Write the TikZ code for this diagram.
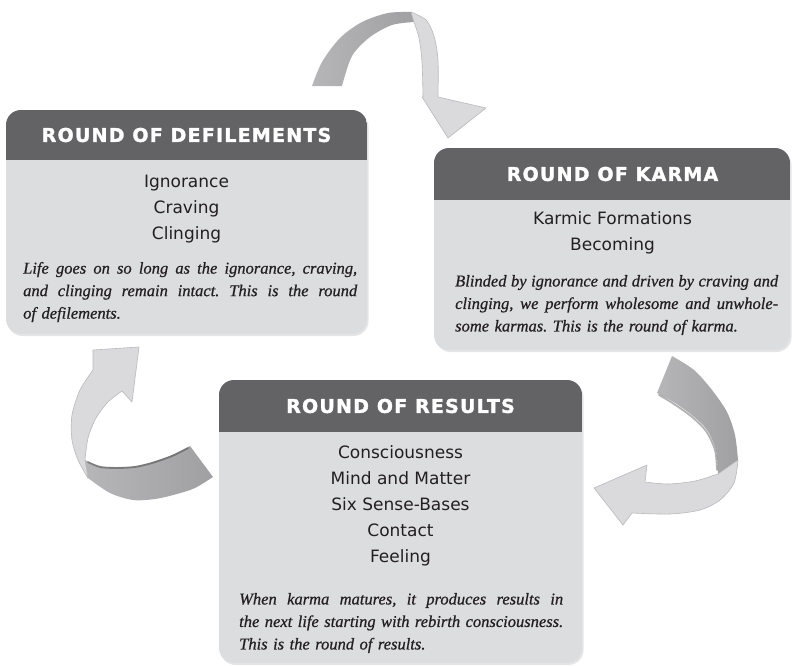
\documentclass[tikz,border=0pt]{standalone}
\usepackage{fontspec}
\newfontfamily\itemfont{DejaVu Sans}
\newfontfamily\headfont[LetterSpace=6.5, BoldFeatures={FakeBold=1.6}]{DejaVu Sans}
\newfontfamily\parafont[ItalicFeatures={FakeBold=0.7}]{Liberation Serif}
\definecolor{headgray}{HTML}{636365}
\definecolor{bodygray}{HTML}{DCDDDF}
\definecolor{inkgray}{HTML}{231F20}
\definecolor{darkA}{HTML}{B6B6B8}
\definecolor{darkB}{HTML}{A0A0A2}
\definecolor{lightarrow}{HTML}{DADADC}
\definecolor{lightedge}{HTML}{B9B9BB}
\newcommand{\jline}[2]{\leavevmode\hbox to #1{\frenchspacing\spaceskip=\fontdimen2\font plus 1fil\relax #2}}
\tikzset{
  boxbody/.style={fill=bodygray, rounded corners=15pt},
  boxshade/.style={fill=black, opacity=0.10, rounded corners=15pt},
  headtext/.style={text=white, font=\headfont\bfseries\fontsize{19}{19}\selectfont, inner sep=0pt},
  itemtext/.style={text=inkgray, font=\itemfont\fontsize{17}{26}\selectfont, align=center, inner sep=0pt, anchor=north},
  paratext/.style={text=inkgray, font=\parafont\itshape\frenchspacing\fontsize{16.5}{22.5}\selectfont, align=left, inner sep=0pt, anchor=north west},
  darkband/.style={left color=darkA, right color=darkB},
  lightband/.style={fill=lightarrow, draw=lightedge, line width=0.6pt, line join=round},
  foldshade/.style={draw=black, opacity=0.30, line width=1.8pt, line cap=round}
}
\begin{document}
\begin{tikzpicture}[x=1pt,y=-1pt]
\useasboundingbox (0,0) rectangle (792,665);

% ---------- arrows ----------
% top arrow (defilements -> karma)
\path[darkband] plot[smooth] coordinates {(312,86) (322,62) (340,38) (362,22) (388,13) (411,12)}
  -- plot[smooth] coordinates {(414,22) (392,25) (370,37) (352,56) (342,86)} -- cycle;
\path[lightband] plot[smooth] coordinates {(411,12) (426,20) (434,36) (438,60) (438,97)}
  -- (486,108) -- (448,138) -- (422,97)
  -- plot[smooth] coordinates {(423,97) (422,62) (419,38) (414,22)} -- cycle;

% right arrow (karma -> results)
\path[darkband] plot[smooth] coordinates {(672,356) (694,370) (712,390) (727,412) (735,435) (738,460)}
  -- plot[smooth] coordinates {(718,474) (716,450) (707,430) (693,416) (675,403) (657,393)} -- cycle;
\draw[foldshade] plot[smooth] coordinates {(717,470) (715,450) (706,431) (692,417) (674,404) (659,395)};
\path[lightband] plot[smooth] coordinates {(738,460) (734,483) (720,500) (700,510) (670,514) (632,513)}
  -- (623,525) -- (594,488) -- (647,465)
  -- plot[smooth] coordinates {(645,482) (668,484) (695,481) (718,474)} -- cycle;

% left arrow (results -> defilements)
\path[darkband] plot[smooth] coordinates {(213,477) (195,488) (177,494) (155,499) (133,500) (110,493) (88,478)}
  -- plot[smooth] coordinates {(85,460) (100,466) (117,467) (135,466) (152,462) (172,455) (190,446)} -- cycle;
\draw[foldshade] plot[smooth] coordinates {(88,462) (100,467) (117,468) (135,467) (152,463) (172,456) (188,448)};
\path[lightband] plot[smooth] coordinates {(88,478) (78,460) (72,440) (72,415) (80,390) (93,370)}
  -- (93,350) -- (139,347) -- (132,402)
  -- plot[smooth] coordinates {(122,391) (108,402) (96,418) (88,438) (85,460)} -- cycle;

% ---------- box 1 : defilements ----------
\fill[boxshade] (7.5,112) rectangle (368.5,336);
\path[boxbody] (6,110) rectangle (367,334);
\begin{scope}
  \clip[rounded corners=15pt] (6,110) rectangle (367,334);
  \fill[headgray] (6,110) rectangle (367,160);
\end{scope}
\node[headtext] (h1) at (186.5,135) {ROUND OF DEFILEMENTS};
\node[itemtext] (i1) at (186.5,174.6) {Ignorance\\Craving\\Clinging};
\node[paratext, text width=334pt] (p1) at (23,261.8) {%
\jline{334pt}{Life goes on so long as the ignorance, craving,}\\
\jline{334pt}{and clinging remain intact. This is the round}\\
of defilements.};

% ---------- box 2 : karma ----------
\fill[boxshade] (435.5,150) rectangle (791.5,352);
\path[boxbody] (434,148) rectangle (790,350);
\begin{scope}
  \clip[rounded corners=15pt] (434,148) rectangle (790,350);
  \fill[headgray] (434,148) rectangle (790,200);
\end{scope}
\node[headtext] (h2) at (612.5,174) {ROUND OF KARMA};
\node[itemtext] (i2) at (612.5,211.3) {Karmic Formations\\Becoming};
\node[paratext, text width=323pt] (p2) at (455,274.8) {%
\jline{323pt}{Blinded by ignorance and driven by craving and}\\
\jline{323pt}{clinging, we perform wholesome and unwhole-}\\
some karmas. This is the round of karma.};

% ---------- box 3 : results ----------
\fill[boxshade] (220.5,382) rectangle (583.5,665);
\path[boxbody] (219,380) rectangle (582,663);
\begin{scope}
  \clip[rounded corners=15pt] (219,380) rectangle (582,663);
  \fill[headgray] (219,380) rectangle (582,432);
\end{scope}
\node[headtext] (h3) at (400.5,406) {ROUND OF RESULTS};
\node[itemtext] (i3) at (400.5,445.3) {Consciousness\\Mind and Matter\\Six Sense-Bases\\Contact\\Feeling};
\node[paratext, text width=324pt] (p3) at (239,592.8) {%
\jline{324pt}{When karma matures, it produces results in}\\
\jline{324pt}{the next life starting with rebirth consciousness.}\\
This is the round of results.};
\end{tikzpicture}
\end{document}
